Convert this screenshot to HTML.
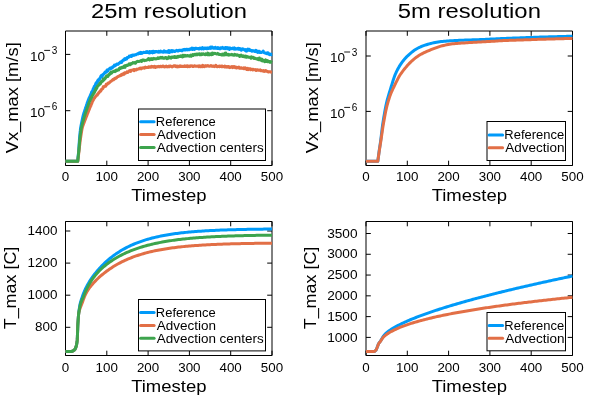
<!DOCTYPE html><html><head><meta charset="utf-8"><style>html,body{margin:0;padding:0;background:#fff;overflow:hidden}svg{display:block}svg{will-change:transform}</style></head><body>
<svg width="600" height="400" viewBox="0 0 600 400" font-family='"Liberation Sans", sans-serif' fill="#000">
<rect width="600" height="400" fill="#fff"/>
<path d="M65.5,31.0 H272.0 V165.5 H65.5 Z" fill="none" stroke="#000" stroke-width="1"/>
<path d="M65.50,165.5 V160.70 M65.50,31.0 V35.80 M106.80,165.5 V160.70 M106.80,31.0 V35.80 M148.10,165.5 V160.70 M148.10,31.0 V35.80 M189.40,165.5 V160.70 M189.40,31.0 V35.80 M230.70,165.5 V160.70 M230.70,31.0 V35.80 M272.00,165.5 V160.70 M272.00,31.0 V35.80 M65.5,54.40 H70.30 M272.0,54.40 H267.20 M65.5,110.70 H70.30 M272.0,110.70 H267.20 " fill="none" stroke="#000" stroke-width="1"/>
<path d="M65.50,161.30 L77.60,161.30 L77.65,160.80 L77.71,160.31 L77.76,159.81 L77.81,159.31 L77.87,158.81 L77.92,158.32 L77.97,157.82 L78.03,157.32 L78.08,156.82 L78.13,156.33 L78.19,155.83 L78.24,155.33 L78.29,154.83 L78.34,154.34 L78.39,153.84 L78.44,153.34 L78.49,152.84 L78.54,152.34 L78.58,151.85 L78.62,151.35 L78.66,150.85 L78.70,150.35 L78.74,149.85 L78.77,149.35 L78.81,148.85 L78.84,148.36 L78.88,147.86 L78.91,147.36 L78.94,146.86 L78.98,146.36 L79.01,145.86 L79.04,145.36 L79.08,144.86 L79.11,144.36 L79.14,143.86 L79.18,143.36 L79.21,142.86 L79.24,142.37 L79.28,141.87 L79.31,141.37 L79.34,140.87 L79.38,140.37 L79.41,139.87 L79.45,139.37 L79.48,138.87 L79.52,138.37 L79.56,137.87 L79.60,137.38 L79.64,136.88 L79.69,136.38 L79.73,135.88 L79.78,135.38 L79.83,134.89 L79.88,134.39 L79.93,133.89 L79.98,133.39 L80.03,132.90 L80.09,132.40 L80.14,131.90 L80.19,131.40 L80.25,130.91 L80.30,130.41 L80.36,129.91 L80.42,129.42 L80.48,128.92 L80.55,128.42 L80.62,127.93 L80.70,127.44 L80.78,126.94 L80.87,126.45 L80.96,125.96 L81.05,125.47 L81.15,124.98 L81.25,124.49 L81.35,124.00 L81.45,123.51 L81.55,123.02 L81.65,122.53 L81.76,122.04 L81.86,121.55 L81.96,121.06 L82.07,120.57 L82.17,120.08 L82.28,119.59 L82.38,119.11 L82.49,118.62 L82.59,118.13 L82.70,117.64 L82.81,117.15 L82.92,116.66 L83.04,116.18 L83.16,115.69 L83.28,115.21 L83.42,114.73 L83.56,114.25 L83.69,113.77 L83.84,113.29 L83.99,112.81 L84.14,112.34 L84.29,111.86 L84.45,111.38 L84.60,110.91 L84.76,110.43 L84.91,109.96 L85.07,109.48 L85.23,109.01 L85.38,108.53 L85.54,108.06 L85.70,107.58 L85.85,107.11 L86.01,106.63 L86.17,106.16 L86.32,105.68 L86.48,105.21 L86.64,104.73 L86.80,104.26 L86.95,103.78 L87.11,103.31 L87.27,102.84 L87.43,102.36 L87.60,101.89 L87.77,101.42 L87.94,100.95 L88.12,100.49 L88.30,100.02 L88.48,99.56 L88.68,99.10 L88.88,98.64 L89.08,98.18 L89.28,97.72 L89.49,97.27 L89.70,96.82 L89.91,96.36 L90.12,96.67 L90.34,95.25 L90.55,95.02 L90.76,94.73 L90.97,93.74 L91.19,93.65 L91.40,93.19 L91.61,91.95 L91.83,92.74 L92.04,92.10 L92.25,91.10 L92.46,90.85 L92.68,90.70 L92.89,89.91 L93.10,89.46 L93.32,88.46 L93.53,88.92 L93.75,88.27 L93.96,87.89 L94.18,86.63 L94.41,87.61 L94.63,86.49 L94.86,85.80 L95.10,86.46 L95.35,85.09 L95.59,84.02 L95.85,84.07 L96.12,82.80 L96.38,83.88 L96.66,82.80 L96.94,82.24 L97.21,82.64 L97.50,81.00 L97.78,81.57 L98.06,79.99 L98.34,80.21 L98.63,79.55 L98.91,80.34 L99.20,80.07 L99.48,78.71 L99.77,78.83 L100.06,77.96 L100.35,77.89 L100.64,76.89 L100.94,76.07 L101.24,75.63 L101.55,76.22 L101.88,76.69 L102.21,75.43 L102.54,74.70 L102.89,75.46 L103.25,74.36 L103.61,73.95 L103.99,73.69 L104.36,73.19 L104.74,72.78 L105.12,71.95 L105.50,72.50 L105.88,71.91 L106.26,72.17 L106.65,71.14 L107.03,70.13 L107.42,70.63 L107.81,71.12 L108.19,69.86 L108.59,69.33 L108.98,68.89 L109.37,68.64 L109.78,68.69 L110.18,68.00 L110.59,68.92 L111.00,67.84 L111.42,67.74 L111.84,68.07 L112.27,67.84 L112.69,66.80 L113.12,66.78 L113.54,66.71 L113.97,66.03 L114.40,65.06 L114.83,65.90 L115.26,65.75 L115.69,65.27 L116.12,64.41 L116.54,64.48 L116.97,64.05 L117.40,63.92 L117.83,64.38 L118.26,64.23 L118.68,63.58 L119.11,63.26 L119.54,63.06 L119.96,62.48 L120.38,62.18 L120.80,61.65 L121.22,61.65 L121.64,62.42 L122.06,61.52 L122.48,60.71 L122.90,60.37 L123.32,59.92 L123.74,60.21 L124.16,59.94 L124.57,58.84 L124.99,59.44 L125.41,58.69 L125.83,59.32 L126.26,58.48 L126.68,58.91 L127.10,57.66 L127.53,57.48 L127.95,57.49 L128.38,57.57 L128.82,57.12 L129.26,56.08 L129.70,56.49 L130.15,56.22 L130.61,55.83 L131.06,55.54 L131.53,56.46 L132.01,55.34 L132.48,54.98 L132.96,55.51 L133.44,55.14 L133.92,54.91 L134.40,55.17 L134.88,54.90 L135.36,54.72 L135.85,54.86 L136.33,54.42 L136.81,53.89 L137.30,53.88 L137.78,53.69 L138.27,53.89 L138.75,53.20 L139.24,52.76 L139.73,53.51 L140.22,52.78 L140.71,52.41 L141.20,53.37 L141.69,52.81 L142.19,53.28 L142.68,52.75 L143.18,52.42 L143.68,52.30 L144.17,52.57 L144.67,52.62 L145.17,52.31 L145.66,52.49 L146.16,51.87 L146.66,52.51 L147.15,51.64 L147.65,52.31 L148.15,52.65 L148.64,52.78 L149.14,53.01 L149.64,51.50 L150.14,52.49 L150.64,52.66 L151.13,52.53 L151.63,51.63 L152.13,52.21 L152.63,52.84 L153.13,51.30 L153.63,52.17 L154.13,52.44 L154.63,51.60 L155.13,52.16 L155.63,51.39 L156.13,51.49 L156.63,51.47 L157.13,51.90 L157.63,51.76 L158.13,52.21 L158.63,51.34 L159.13,51.69 L159.63,52.17 L160.13,51.97 L160.63,51.11 L161.13,52.00 L161.63,51.48 L162.13,51.86 L162.63,51.81 L163.13,52.22 L163.63,51.72 L164.13,50.82 L164.63,51.04 L165.13,51.98 L165.63,51.53 L166.13,52.15 L166.63,51.75 L167.13,51.28 L167.63,52.10 L168.13,51.24 L168.63,50.66 L169.13,52.49 L169.63,50.68 L170.13,51.80 L170.63,51.90 L171.13,51.51 L171.62,50.64 L172.12,51.81 L172.62,50.66 L173.12,50.66 L173.62,51.05 L174.11,51.51 L174.61,51.24 L175.11,51.41 L175.60,50.80 L176.10,50.86 L176.60,50.37 L177.09,50.68 L177.59,51.02 L178.09,50.55 L178.58,50.84 L179.08,50.30 L179.57,50.22 L180.07,50.43 L180.56,50.26 L181.06,50.54 L181.55,50.28 L182.05,50.91 L182.54,49.95 L183.04,49.88 L183.53,49.44 L184.03,49.84 L184.52,50.07 L185.02,49.36 L185.51,49.60 L186.01,49.87 L186.50,49.43 L187.00,49.19 L187.50,49.79 L187.99,49.35 L188.49,49.43 L188.99,49.72 L189.48,49.67 L189.98,48.96 L190.48,48.83 L190.98,49.16 L191.48,48.94 L191.98,48.11 L192.48,49.51 L192.98,48.91 L193.48,49.20 L193.97,48.31 L194.47,49.38 L194.97,48.51 L195.47,48.69 L195.97,48.08 L196.47,48.60 L196.97,48.54 L197.47,48.53 L197.97,48.78 L198.47,48.58 L198.97,48.97 L199.47,48.29 L199.97,48.03 L200.47,48.44 L200.97,48.70 L201.47,48.96 L201.96,48.74 L202.46,47.56 L202.96,48.50 L203.46,48.96 L203.96,48.31 L204.46,48.02 L204.96,48.37 L205.46,47.98 L205.96,48.48 L206.46,48.16 L206.96,48.77 L207.46,48.35 L207.96,47.77 L208.46,48.35 L208.96,48.48 L209.46,47.79 L209.96,47.84 L210.46,46.98 L210.96,48.41 L211.46,47.73 L211.96,47.03 L212.46,47.18 L212.96,47.86 L213.46,48.30 L213.96,47.91 L214.46,48.16 L214.96,47.44 L215.46,47.33 L215.96,48.33 L216.46,48.15 L216.96,47.92 L217.46,48.51 L217.96,47.51 L218.46,47.75 L218.96,48.41 L219.46,48.78 L219.96,47.97 L220.46,48.73 L220.96,47.72 L221.46,48.15 L221.96,47.94 L222.46,47.31 L222.96,48.16 L223.46,48.48 L223.96,48.00 L224.46,48.05 L224.96,48.73 L225.46,47.55 L225.96,47.46 L226.46,47.85 L226.96,47.63 L227.46,48.79 L227.96,48.35 L228.46,47.85 L228.96,47.99 L229.46,49.58 L229.96,48.05 L230.46,48.02 L230.96,48.53 L231.46,48.72 L231.95,48.57 L232.45,48.11 L232.95,48.03 L233.45,48.86 L233.95,48.61 L234.45,47.94 L234.95,49.25 L235.44,49.11 L235.94,48.70 L236.44,48.73 L236.94,48.99 L237.44,48.63 L237.94,48.38 L238.43,49.17 L238.93,48.43 L239.43,49.31 L239.93,48.53 L240.42,49.20 L240.92,49.24 L241.42,50.16 L241.91,48.94 L242.41,48.84 L242.91,49.25 L243.40,49.10 L243.90,49.41 L244.39,49.92 L244.89,50.15 L245.39,50.61 L245.88,49.60 L246.38,51.18 L246.87,50.95 L247.37,50.03 L247.87,49.16 L248.36,50.21 L248.86,50.35 L249.35,49.35 L249.85,50.49 L250.35,50.43 L250.84,50.24 L251.34,50.94 L251.83,51.18 L252.33,50.58 L252.82,50.98 L253.32,50.65 L253.81,50.66 L254.31,51.12 L254.80,51.40 L255.30,50.98 L255.79,50.31 L256.29,51.64 L256.78,50.73 L257.28,51.58 L257.77,52.40 L258.27,51.67 L258.76,51.21 L259.25,51.17 L259.75,52.43 L260.24,51.98 L260.73,52.31 L261.23,52.58 L261.72,52.23 L262.21,52.20 L262.70,52.01 L263.19,51.15 L263.68,51.95 L264.17,52.71 L264.66,52.76 L265.15,53.12 L265.64,52.99 L266.13,53.22 L266.62,53.61 L267.11,52.96 L267.60,53.33 L268.09,52.84 L268.58,54.11 L269.06,53.79 L269.55,54.10 L270.04,54.68 L270.53,54.57 L271.02,54.16 L271.51,54.65 L272.00,54.40" fill="none" stroke="#009af9" stroke-width="3" stroke-linejoin="round"/>
<path d="M65.50,161.30 L77.80,161.30 L77.86,160.80 L77.92,160.31 L77.98,159.81 L78.04,159.31 L78.09,158.82 L78.15,158.32 L78.21,157.82 L78.27,157.32 L78.33,156.83 L78.39,156.33 L78.45,155.83 L78.51,155.34 L78.56,154.84 L78.62,154.34 L78.68,153.85 L78.74,153.35 L78.80,152.85 L78.86,152.35 L78.91,151.86 L78.97,151.36 L79.03,150.86 L79.09,150.37 L79.15,149.87 L79.20,149.37 L79.26,148.87 L79.32,148.38 L79.38,147.88 L79.43,147.38 L79.49,146.89 L79.55,146.39 L79.60,145.89 L79.66,145.39 L79.72,144.90 L79.78,144.40 L79.83,143.90 L79.89,143.41 L79.95,142.91 L80.01,142.41 L80.07,141.92 L80.13,141.42 L80.19,140.92 L80.25,140.43 L80.31,139.93 L80.38,139.43 L80.44,138.94 L80.51,138.44 L80.58,137.95 L80.65,137.45 L80.73,136.96 L80.80,136.46 L80.88,135.97 L80.95,135.47 L81.03,134.98 L81.11,134.48 L81.18,133.99 L81.26,133.49 L81.34,133.00 L81.42,132.51 L81.50,132.01 L81.57,131.52 L81.66,131.02 L81.74,130.53 L81.82,130.04 L81.92,129.55 L82.01,129.06 L82.11,128.57 L82.23,128.09 L82.36,127.61 L82.48,127.12 L82.63,126.65 L82.78,126.17 L82.93,125.70 L83.10,125.23 L83.27,124.76 L83.44,124.29 L83.62,123.82 L83.79,123.35 L83.97,122.89 L84.15,122.42 L84.33,121.95 L84.51,121.48 L84.69,121.02 L84.87,120.55 L85.05,120.08 L85.23,119.62 L85.41,119.15 L85.59,118.68 L85.77,118.21 L85.95,117.75 L86.13,117.28 L86.31,116.81 L86.49,116.35 L86.67,115.88 L86.85,115.41 L87.03,114.95 L87.22,114.48 L87.40,114.02 L87.58,113.55 L87.77,113.09 L87.95,112.62 L88.14,112.16 L88.32,111.69 L88.51,111.23 L88.70,110.76 L88.88,110.30 L89.07,109.83 L89.25,109.37 L89.44,108.90 L89.62,108.44 L89.81,107.98 L90.00,107.51 L90.18,106.54 L90.37,106.73 L90.55,106.17 L90.74,105.09 L90.93,105.66 L91.11,104.48 L91.30,104.50 L91.49,103.65 L91.68,103.68 L91.87,103.33 L92.07,102.13 L92.26,101.42 L92.48,101.47 L92.70,101.36 L92.92,100.49 L93.17,99.98 L93.43,99.94 L93.68,98.38 L93.97,98.71 L94.26,98.05 L94.54,98.23 L94.85,97.48 L95.15,96.95 L95.46,96.82 L95.77,96.04 L96.08,96.16 L96.40,95.53 L96.71,95.25 L97.02,94.74 L97.34,94.92 L97.65,94.17 L97.96,94.01 L98.28,93.60 L98.59,92.76 L98.91,92.85 L99.22,92.39 L99.53,91.98 L99.85,91.35 L100.17,90.95 L100.49,90.99 L100.81,91.10 L101.13,89.67 L101.47,89.78 L101.81,89.09 L102.15,89.13 L102.50,88.66 L102.86,88.53 L103.22,86.83 L103.59,87.26 L103.96,86.79 L104.33,86.77 L104.70,86.22 L105.08,85.92 L105.46,86.06 L105.84,86.16 L106.22,84.18 L106.60,84.73 L106.98,84.62 L107.36,84.19 L107.74,83.74 L108.12,83.07 L108.50,82.89 L108.89,83.15 L109.28,82.97 L109.67,82.31 L110.06,81.67 L110.46,81.70 L110.86,81.29 L111.26,81.27 L111.67,80.83 L112.08,80.28 L112.49,80.28 L112.91,79.52 L113.32,79.94 L113.74,79.79 L114.16,78.69 L114.58,78.98 L115.00,78.21 L115.42,78.67 L115.84,78.34 L116.27,77.68 L116.69,77.85 L117.12,77.09 L117.55,76.76 L117.98,76.53 L118.42,76.43 L118.85,76.12 L119.29,76.05 L119.73,75.54 L120.17,75.79 L120.61,75.65 L121.06,74.90 L121.51,74.35 L121.96,74.89 L122.41,74.83 L122.87,74.16 L123.32,73.56 L123.78,73.90 L124.23,74.13 L124.69,72.73 L125.15,73.35 L125.60,72.87 L126.06,72.48 L126.52,72.75 L126.97,71.91 L127.43,72.28 L127.89,72.44 L128.35,71.84 L128.82,71.29 L129.28,70.80 L129.75,70.79 L130.22,70.44 L130.70,71.49 L131.17,70.68 L131.65,70.27 L132.13,70.04 L132.61,69.99 L133.09,70.12 L133.58,69.66 L134.06,70.57 L134.55,69.60 L135.03,69.47 L135.52,69.73 L136.00,70.01 L136.49,69.84 L136.98,69.09 L137.46,69.23 L137.95,69.08 L138.44,69.10 L138.92,68.90 L139.41,68.37 L139.90,68.16 L140.39,68.57 L140.88,68.00 L141.38,68.80 L141.87,68.25 L142.36,67.80 L142.86,67.97 L143.35,67.82 L143.84,67.88 L144.34,68.18 L144.83,67.27 L145.33,67.05 L145.82,67.75 L146.32,67.49 L146.81,67.54 L147.31,67.57 L147.81,67.28 L148.30,67.56 L148.80,66.90 L149.29,67.18 L149.79,66.81 L150.29,66.65 L150.78,67.21 L151.28,67.15 L151.78,66.23 L152.28,66.48 L152.78,66.94 L153.28,67.18 L153.78,66.54 L154.28,66.68 L154.78,66.22 L155.28,67.56 L155.78,66.82 L156.28,66.94 L156.77,66.83 L157.27,66.89 L157.77,66.75 L158.27,66.40 L158.77,66.75 L159.27,66.50 L159.77,66.90 L160.27,66.18 L160.77,66.23 L161.27,66.64 L161.77,66.84 L162.27,66.43 L162.77,66.13 L163.27,66.33 L163.77,66.19 L164.27,67.02 L164.78,66.67 L165.28,66.79 L165.78,66.45 L166.28,66.14 L166.78,66.74 L167.28,66.91 L167.78,66.53 L168.28,66.31 L168.78,66.69 L169.28,66.18 L169.78,66.58 L170.28,66.06 L170.78,65.97 L171.28,66.50 L171.78,66.42 L172.28,66.97 L172.78,66.20 L173.28,66.31 L173.78,65.90 L174.28,65.65 L174.78,65.68 L175.28,66.46 L175.78,65.89 L176.28,66.69 L176.79,66.79 L177.29,66.19 L177.79,66.87 L178.29,66.37 L178.79,66.68 L179.29,66.20 L179.79,66.61 L180.29,65.94 L180.79,66.49 L181.29,66.10 L181.79,66.21 L182.29,66.48 L182.79,66.31 L183.29,66.22 L183.79,66.50 L184.29,66.52 L184.79,65.75 L185.29,66.42 L185.79,66.46 L186.29,65.96 L186.79,66.35 L187.29,65.75 L187.79,66.71 L188.29,66.12 L188.80,66.17 L189.30,66.61 L189.80,66.14 L190.30,66.39 L190.80,65.81 L191.30,65.97 L191.80,65.68 L192.30,66.09 L192.80,66.52 L193.30,66.23 L193.80,66.46 L194.30,65.79 L194.80,65.83 L195.30,65.97 L195.80,66.33 L196.30,66.25 L196.80,66.12 L197.30,66.34 L197.80,66.06 L198.30,66.10 L198.80,66.57 L199.30,65.90 L199.80,66.17 L200.30,66.67 L200.81,66.14 L201.31,66.35 L201.81,65.89 L202.31,66.79 L202.81,65.31 L203.31,65.70 L203.81,65.73 L204.31,66.67 L204.81,66.22 L205.31,66.01 L205.81,65.65 L206.31,66.23 L206.81,66.14 L207.31,65.86 L207.81,65.58 L208.31,65.72 L208.81,66.19 L209.31,66.23 L209.81,66.15 L210.31,66.08 L210.81,65.53 L211.31,66.18 L211.81,65.82 L212.31,66.21 L212.81,66.37 L213.31,65.99 L213.81,65.89 L214.31,66.61 L214.81,66.41 L215.31,66.08 L215.81,65.27 L216.31,66.32 L216.81,66.58 L217.31,66.77 L217.81,66.15 L218.31,66.18 L218.81,66.27 L219.31,66.73 L219.81,66.04 L220.32,66.43 L220.82,66.16 L221.32,66.59 L221.82,65.97 L222.32,66.66 L222.82,66.36 L223.32,66.47 L223.82,66.75 L224.32,66.98 L224.82,66.00 L225.32,66.96 L225.82,66.82 L226.32,66.54 L226.82,67.15 L227.32,66.75 L227.82,67.16 L228.32,66.53 L228.81,66.47 L229.31,67.23 L229.81,67.60 L230.31,67.11 L230.81,67.24 L231.31,66.81 L231.81,66.56 L232.30,66.99 L232.80,67.64 L233.30,66.52 L233.80,67.05 L234.29,66.60 L234.79,67.36 L235.29,67.68 L235.79,66.99 L236.29,67.33 L236.78,67.99 L237.28,67.55 L237.78,67.20 L238.28,67.22 L238.77,67.03 L239.27,68.07 L239.77,67.59 L240.27,68.28 L240.76,68.28 L241.26,67.80 L241.76,67.91 L242.25,68.43 L242.75,68.27 L243.24,68.38 L243.74,67.77 L244.24,68.73 L244.73,68.17 L245.23,67.75 L245.73,68.39 L246.22,68.82 L246.72,69.47 L247.21,68.67 L247.71,68.40 L248.21,69.67 L248.70,69.05 L249.20,68.96 L249.70,68.74 L250.19,68.83 L250.69,69.76 L251.19,69.21 L251.68,69.17 L252.18,69.24 L252.68,70.03 L253.17,69.34 L253.67,69.82 L254.17,69.75 L254.66,69.80 L255.16,69.47 L255.66,70.07 L256.15,70.46 L256.65,69.94 L257.15,69.70 L257.65,69.63 L258.14,70.20 L258.64,70.10 L259.14,70.22 L259.63,70.33 L260.13,69.87 L260.62,70.73 L261.12,70.60 L261.62,70.56 L262.11,70.74 L262.61,71.06 L263.10,70.83 L263.60,70.58 L264.09,71.37 L264.58,70.88 L265.08,70.86 L265.57,70.64 L266.07,71.27 L266.56,70.98 L267.06,71.24 L267.55,71.66 L268.05,71.59 L268.54,72.01 L269.03,71.84 L269.53,71.67 L270.02,71.77 L270.52,71.79 L271.01,72.27 L271.51,72.13 L272.00,72.20" fill="none" stroke="#e26f46" stroke-width="3" stroke-linejoin="round"/>
<path d="M65.50,161.30 L77.70,161.30 L77.75,160.80 L77.81,160.30 L77.86,159.81 L77.91,159.31 L77.97,158.81 L78.02,158.31 L78.07,157.82 L78.13,157.32 L78.18,156.82 L78.23,156.32 L78.29,155.83 L78.34,155.33 L78.39,154.83 L78.45,154.33 L78.50,153.84 L78.55,153.34 L78.60,152.84 L78.65,152.34 L78.70,151.84 L78.74,151.35 L78.79,150.85 L78.84,150.35 L78.88,149.85 L78.93,149.35 L78.97,148.85 L79.01,148.36 L79.05,147.86 L79.10,147.36 L79.14,146.86 L79.18,146.36 L79.23,145.86 L79.27,145.36 L79.31,144.87 L79.35,144.37 L79.40,143.87 L79.44,143.37 L79.48,142.87 L79.53,142.37 L79.57,141.87 L79.61,141.38 L79.66,140.88 L79.70,140.38 L79.75,139.88 L79.80,139.38 L79.84,138.89 L79.90,138.39 L79.95,137.89 L80.00,137.39 L80.06,136.90 L80.12,136.40 L80.18,135.90 L80.24,135.41 L80.30,134.91 L80.37,134.41 L80.43,133.92 L80.50,133.42 L80.56,132.92 L80.63,132.43 L80.69,131.93 L80.76,131.44 L80.83,130.94 L80.90,130.45 L80.97,129.95 L81.05,129.46 L81.14,128.97 L81.22,128.47 L81.32,127.98 L81.42,127.50 L81.52,127.01 L81.64,126.52 L81.76,126.04 L81.88,125.55 L82.01,125.07 L82.14,124.58 L82.27,124.10 L82.40,123.62 L82.53,123.14 L82.66,122.65 L82.79,122.17 L82.92,121.69 L83.06,121.20 L83.19,120.72 L83.32,120.24 L83.45,119.76 L83.58,119.27 L83.72,118.79 L83.85,118.31 L83.98,117.83 L84.12,117.35 L84.25,116.86 L84.40,116.38 L84.54,115.90 L84.68,115.42 L84.83,114.95 L84.98,114.47 L85.13,113.99 L85.29,113.52 L85.45,113.04 L85.61,112.57 L85.77,112.10 L85.93,111.62 L86.10,111.15 L86.26,110.68 L86.43,110.21 L86.59,109.73 L86.76,109.26 L86.92,108.79 L87.09,108.32 L87.25,107.85 L87.42,107.37 L87.58,106.90 L87.75,106.43 L87.92,105.96 L88.08,105.48 L88.25,105.01 L88.41,104.54 L88.58,104.07 L88.75,103.60 L88.91,103.13 L89.08,102.66 L89.26,102.19 L89.44,101.72 L89.62,101.25 L89.81,100.80 L90.01,100.15 L90.20,100.26 L90.42,99.47 L90.64,98.77 L90.86,97.85 L91.09,98.29 L91.33,97.76 L91.56,97.23 L91.80,96.57 L92.04,95.96 L92.28,95.79 L92.53,95.56 L92.77,94.96 L93.01,94.52 L93.25,93.93 L93.50,93.86 L93.74,93.37 L93.98,92.49 L94.23,92.74 L94.47,92.31 L94.71,91.88 L94.96,91.02 L95.20,90.56 L95.44,89.69 L95.69,90.11 L95.93,88.37 L96.19,88.73 L96.44,88.32 L96.69,88.43 L96.96,87.62 L97.22,86.77 L97.49,86.14 L97.78,86.05 L98.07,86.02 L98.36,85.59 L98.67,85.08 L98.97,84.47 L99.28,84.29 L99.60,84.45 L99.92,83.12 L100.24,83.24 L100.56,83.57 L100.88,82.71 L101.21,81.88 L101.54,82.01 L101.87,81.00 L102.20,80.97 L102.55,81.30 L102.89,81.09 L103.24,79.11 L103.60,79.84 L103.95,80.06 L104.31,78.58 L104.67,78.60 L105.04,78.82 L105.40,77.58 L105.76,77.66 L106.13,77.09 L106.50,75.91 L106.86,76.59 L107.23,76.01 L107.60,76.17 L107.97,76.37 L108.35,75.41 L108.72,74.60 L109.11,74.67 L109.50,74.25 L109.90,74.31 L110.31,72.93 L110.72,72.78 L111.14,72.12 L111.57,73.07 L112.00,72.54 L112.44,72.02 L112.88,71.75 L113.33,71.59 L113.77,71.20 L114.22,71.25 L114.66,70.95 L115.11,71.57 L115.56,70.87 L116.01,70.13 L116.45,70.01 L116.90,70.59 L117.35,70.03 L117.80,69.74 L118.25,69.71 L118.70,69.88 L119.15,68.40 L119.60,68.39 L120.05,67.73 L120.50,68.52 L120.95,67.92 L121.41,67.58 L121.86,67.33 L122.32,67.77 L122.77,67.19 L123.23,66.81 L123.69,67.41 L124.14,66.17 L124.60,65.86 L125.05,67.39 L125.51,65.86 L125.97,65.57 L126.42,65.29 L126.88,65.35 L127.34,65.56 L127.80,65.35 L128.26,65.06 L128.72,64.49 L129.18,63.76 L129.65,64.38 L130.11,64.75 L130.58,64.39 L131.06,63.66 L131.53,63.94 L132.00,63.25 L132.48,63.25 L132.96,62.56 L133.43,62.83 L133.91,62.89 L134.39,62.61 L134.87,62.89 L135.35,63.24 L135.83,62.85 L136.31,61.97 L136.79,61.64 L137.27,61.53 L137.75,61.25 L138.23,61.57 L138.71,61.60 L139.20,61.37 L139.68,61.25 L140.16,61.11 L140.65,60.86 L141.14,60.48 L141.62,61.47 L142.11,61.06 L142.60,60.08 L143.09,59.98 L143.58,60.02 L144.07,60.20 L144.56,60.65 L145.05,60.45 L145.54,60.37 L146.04,60.28 L146.53,60.20 L147.02,59.93 L147.51,59.71 L148.00,59.36 L148.49,58.54 L148.98,59.18 L149.48,59.97 L149.97,58.84 L150.47,58.73 L150.96,59.41 L151.46,58.92 L151.95,58.60 L152.45,59.47 L152.95,58.99 L153.45,59.00 L153.94,58.35 L154.44,58.78 L154.94,58.68 L155.44,58.81 L155.94,58.92 L156.43,58.86 L156.93,58.39 L157.43,58.57 L157.93,57.70 L158.43,58.46 L158.92,58.44 L159.42,57.91 L159.92,57.70 L160.42,57.98 L160.92,57.43 L161.42,58.10 L161.92,58.05 L162.42,57.46 L162.92,57.88 L163.42,58.31 L163.92,58.28 L164.42,58.23 L164.92,57.69 L165.42,57.58 L165.92,57.53 L166.42,57.94 L166.92,58.71 L167.42,58.26 L167.91,58.31 L168.41,58.18 L168.91,56.81 L169.41,57.41 L169.91,57.28 L170.41,58.00 L170.91,58.15 L171.41,57.06 L171.91,57.33 L172.41,57.52 L172.90,57.01 L173.40,56.90 L173.90,56.83 L174.40,57.49 L174.90,56.63 L175.39,57.50 L175.89,56.98 L176.39,57.23 L176.89,57.54 L177.39,56.49 L177.88,56.37 L178.38,56.87 L178.88,56.16 L179.38,56.24 L179.87,56.46 L180.37,56.52 L180.87,55.83 L181.36,56.16 L181.86,56.54 L182.36,56.82 L182.85,55.27 L183.35,56.68 L183.85,56.43 L184.34,55.49 L184.84,55.26 L185.34,56.05 L185.84,55.61 L186.33,55.80 L186.83,56.07 L187.33,55.46 L187.82,55.65 L188.32,55.73 L188.82,55.87 L189.32,56.21 L189.81,56.13 L190.31,55.43 L190.81,55.17 L191.31,56.29 L191.81,55.47 L192.31,55.32 L192.80,54.59 L193.30,55.39 L193.80,54.65 L194.30,54.75 L194.80,54.31 L195.30,54.63 L195.79,54.84 L196.29,54.10 L196.79,54.33 L197.29,54.65 L197.79,54.08 L198.29,54.05 L198.79,54.20 L199.29,53.91 L199.78,54.78 L200.28,54.04 L200.78,54.80 L201.28,54.85 L201.78,53.87 L202.28,54.41 L202.78,54.15 L203.28,53.84 L203.78,54.18 L204.28,54.20 L204.78,54.61 L205.28,54.73 L205.78,53.76 L206.28,54.06 L206.78,54.46 L207.28,54.73 L207.78,53.09 L208.28,54.75 L208.78,54.08 L209.28,54.83 L209.78,53.95 L210.28,53.75 L210.78,54.14 L211.29,54.64 L211.79,54.12 L212.29,53.05 L212.79,54.41 L213.29,53.38 L213.79,53.66 L214.29,53.58 L214.79,53.28 L215.29,53.54 L215.79,53.66 L216.29,53.83 L216.79,54.09 L217.29,53.97 L217.79,53.46 L218.29,54.06 L218.79,54.59 L219.29,54.59 L219.79,54.24 L220.29,54.47 L220.79,54.61 L221.29,54.84 L221.79,55.01 L222.29,54.12 L222.79,54.16 L223.29,54.96 L223.79,55.02 L224.29,55.03 L224.79,53.30 L225.29,54.28 L225.79,52.93 L226.29,54.74 L226.79,54.46 L227.29,54.48 L227.79,54.42 L228.29,55.09 L228.79,54.40 L229.29,55.03 L229.79,54.84 L230.29,54.79 L230.79,54.87 L231.29,54.74 L231.79,54.24 L232.28,55.09 L232.78,55.12 L233.28,54.78 L233.78,55.21 L234.28,55.32 L234.78,54.37 L235.28,54.93 L235.78,54.83 L236.28,54.66 L236.77,55.26 L237.27,54.77 L237.77,55.01 L238.27,55.37 L238.76,55.46 L239.26,55.52 L239.75,56.45 L240.25,55.29 L240.74,55.71 L241.23,55.14 L241.73,55.99 L242.22,56.38 L242.71,56.51 L243.20,55.77 L243.69,56.03 L244.18,56.82 L244.67,56.31 L245.16,56.88 L245.65,56.12 L246.14,57.28 L246.63,57.21 L247.12,57.06 L247.61,56.59 L248.10,56.98 L248.59,57.22 L249.08,57.37 L249.57,57.30 L250.06,57.35 L250.55,57.64 L251.04,58.28 L251.53,56.85 L252.03,57.23 L252.52,57.25 L253.01,57.74 L253.50,57.36 L253.99,58.49 L254.48,58.39 L254.97,58.33 L255.46,58.23 L255.95,58.71 L256.44,58.82 L256.93,58.99 L257.42,58.61 L257.91,59.33 L258.40,58.48 L258.89,59.80 L259.38,57.96 L259.87,59.18 L260.36,59.02 L260.85,60.02 L261.33,59.11 L261.82,60.71 L262.31,59.31 L262.79,61.04 L263.28,60.45 L263.76,60.38 L264.25,60.69 L264.73,61.60 L265.22,61.14 L265.70,59.86 L266.19,61.53 L266.67,61.22 L267.16,60.52 L267.64,61.71 L268.12,60.95 L268.61,61.70 L269.09,61.85 L269.58,61.58 L270.06,62.29 L270.55,61.66 L271.03,62.33 L271.52,62.13 L272.00,62.50" fill="none" stroke="#3da44d" stroke-width="3" stroke-linejoin="round"/>
<rect x="138.5" y="109.0" width="127.0" height="51.5" fill="#fff" stroke="#000" stroke-width="1"/>
<path d="M140.6,121.7 H154.1" stroke="#009af9" stroke-width="3" stroke-linecap="round"/>
<text transform="translate(155.83,126.00) scale(1.0910,1)" font-size="11.9" text-anchor="start">Reference</text>
<path d="M140.6,134.6 H154.1" stroke="#e26f46" stroke-width="3" stroke-linecap="round"/>
<text transform="translate(156.86,138.90) scale(1.1330,1)" font-size="11.9" text-anchor="start">Advection</text>
<path d="M140.6,147.5 H154.1" stroke="#3da44d" stroke-width="3" stroke-linecap="round"/>
<text transform="translate(156.86,151.80) scale(1.1290,1)" font-size="11.9" text-anchor="start">Advection centers</text>
<path d="M366.0,31.0 H572.5 V165.5 H366.0 Z" fill="none" stroke="#000" stroke-width="1"/>
<path d="M366.00,165.5 V160.70 M366.00,31.0 V35.80 M407.30,165.5 V160.70 M407.30,31.0 V35.80 M448.60,165.5 V160.70 M448.60,31.0 V35.80 M489.90,165.5 V160.70 M489.90,31.0 V35.80 M531.20,165.5 V160.70 M531.20,31.0 V35.80 M572.50,165.5 V160.70 M572.50,31.0 V35.80 M366.0,56.00 H370.80 M572.5,56.00 H567.70 M366.0,111.40 H370.80 M572.5,111.40 H567.70 " fill="none" stroke="#000" stroke-width="1"/>
<path d="M366.00,161.20 L377.80,161.20 L378.00,159.71 L378.20,158.23 L378.40,156.74 L378.60,155.25 L378.80,153.76 L379.00,152.28 L379.21,150.79 L379.42,149.31 L379.64,147.82 L379.85,146.34 L380.07,144.85 L380.28,143.37 L380.50,141.88 L380.70,140.40 L380.89,138.91 L381.08,137.42 L381.26,135.93 L381.43,134.44 L381.61,132.95 L381.78,131.46 L381.96,129.97 L382.14,128.48 L382.33,126.99 L382.54,125.51 L382.75,124.02 L382.98,122.54 L383.21,121.06 L383.45,119.57 L383.69,118.09 L383.93,116.61 L384.17,115.13 L384.42,113.65 L384.67,112.17 L384.94,110.70 L385.21,109.22 L385.50,107.75 L385.80,106.28 L386.11,104.81 L386.44,103.35 L386.78,101.89 L387.14,100.43 L387.52,98.98 L387.92,97.54 L388.34,96.10 L388.76,94.66 L389.19,93.22 L389.63,91.79 L390.07,90.35 L390.51,88.92 L390.95,87.48 L391.39,86.05 L391.83,84.61 L392.28,83.18 L392.72,81.75 L393.17,80.32 L393.63,78.89 L394.11,77.47 L394.62,76.07 L395.17,74.67 L395.75,73.29 L396.37,71.93 L397.02,70.58 L397.70,69.25 L398.41,67.93 L399.16,66.64 L399.95,65.37 L400.78,64.13 L401.64,62.90 L402.52,61.70 L403.43,60.51 L404.37,59.35 L405.35,58.22 L406.36,57.12 L407.41,56.06 L408.50,55.04 L409.61,54.04 L410.75,53.06 L411.91,52.12 L413.09,51.21 L414.31,50.34 L415.55,49.52 L416.83,48.75 L418.14,48.03 L419.47,47.36 L420.83,46.75 L422.21,46.19 L423.61,45.66 L425.03,45.17 L426.45,44.71 L427.89,44.27 L429.33,43.87 L430.78,43.49 L432.23,43.15 L433.70,42.83 L435.17,42.54 L436.64,42.27 L438.12,42.03 L439.60,41.81 L441.09,41.61 L442.58,41.44 L444.07,41.30 L445.56,41.17 L447.06,41.05 L448.56,40.94 L450.05,40.84 L451.55,40.74 L453.05,40.66 L454.55,40.58 L456.04,40.50 L457.54,40.43 L459.04,40.36 L460.54,40.29 L462.04,40.22 L463.54,40.16 L465.04,40.10 L466.54,40.04 L468.04,39.98 L469.54,39.93 L471.04,39.88 L472.54,39.83 L474.04,39.78 L475.54,39.73 L477.04,39.68 L478.53,39.63 L480.03,39.57 L481.53,39.51 L483.03,39.45 L484.53,39.38 L486.03,39.31 L487.53,39.24 L489.03,39.17 L490.53,39.09 L492.03,39.02 L493.52,38.95 L495.02,38.88 L496.52,38.81 L498.02,38.74 L499.52,38.66 L501.02,38.59 L502.52,38.52 L504.02,38.46 L505.51,38.39 L507.01,38.33 L508.51,38.27 L510.01,38.22 L511.51,38.16 L513.01,38.10 L514.51,38.05 L516.01,37.99 L517.51,37.94 L519.01,37.88 L520.51,37.82 L522.01,37.77 L523.51,37.71 L525.01,37.66 L526.51,37.60 L528.01,37.55 L529.51,37.49 L531.01,37.43 L532.50,37.38 L534.00,37.32 L535.50,37.27 L537.00,37.21 L538.50,37.16 L540.00,37.11 L541.50,37.07 L543.00,37.02 L544.50,36.98 L546.00,36.93 L547.50,36.89 L549.00,36.85 L550.50,36.81 L552.00,36.77 L553.50,36.73 L555.00,36.68 L556.50,36.64 L558.00,36.60 L559.50,36.56 L561.00,36.52 L562.50,36.48 L564.00,36.44 L565.50,36.39 L567.00,36.35 L568.50,36.31 L570.00,36.27 L571.50,36.23 L572.50,36.20" fill="none" stroke="#009af9" stroke-width="3" stroke-linejoin="round"/>
<path d="M366.00,161.20 L377.80,161.20 L378.01,159.71 L378.22,158.23 L378.44,156.74 L378.65,155.26 L378.87,153.77 L379.08,152.29 L379.30,150.80 L379.53,149.32 L379.76,147.83 L379.99,146.35 L380.22,144.87 L380.45,143.38 L380.69,141.90 L380.91,140.42 L381.14,138.93 L381.36,137.45 L381.57,135.96 L381.79,134.48 L382.00,132.99 L382.22,131.51 L382.43,130.02 L382.66,128.54 L382.88,127.05 L383.12,125.57 L383.37,124.09 L383.63,122.61 L383.89,121.13 L384.15,119.66 L384.42,118.18 L384.69,116.70 L384.96,115.23 L385.24,113.75 L385.53,112.28 L385.83,110.81 L386.15,109.34 L386.48,107.88 L386.84,106.42 L387.21,104.97 L387.60,103.52 L388.00,102.08 L388.42,100.64 L388.87,99.20 L389.33,97.78 L389.82,96.36 L390.33,94.95 L390.87,93.55 L391.43,92.16 L392.03,90.79 L392.65,89.43 L393.29,88.07 L393.95,86.72 L394.60,85.37 L395.27,84.02 L395.93,82.68 L396.59,81.33 L397.27,79.99 L397.95,78.66 L398.66,77.34 L399.40,76.04 L400.19,74.78 L401.02,73.54 L401.89,72.32 L402.79,71.12 L403.72,69.94 L404.65,68.77 L405.61,67.61 L406.58,66.47 L407.56,65.34 L408.57,64.23 L409.60,63.14 L410.65,62.08 L411.73,61.04 L412.84,60.04 L413.98,59.07 L415.15,58.14 L416.35,57.25 L417.57,56.38 L418.82,55.56 L420.09,54.78 L421.39,54.05 L422.72,53.36 L424.07,52.71 L425.43,52.08 L426.79,51.46 L428.17,50.86 L429.55,50.28 L430.94,49.70 L432.33,49.15 L433.73,48.60 L435.13,48.07 L436.54,47.56 L437.95,47.06 L439.38,46.60 L440.81,46.18 L442.26,45.78 L443.71,45.42 L445.17,45.09 L446.64,44.78 L448.11,44.50 L449.59,44.25 L451.07,44.04 L452.56,43.86 L454.05,43.70 L455.54,43.57 L457.04,43.44 L458.54,43.33 L460.03,43.21 L461.53,43.10 L463.03,42.99 L464.52,42.89 L466.02,42.78 L467.52,42.68 L469.02,42.59 L470.52,42.50 L472.01,42.41 L473.51,42.33 L475.01,42.25 L476.51,42.17 L478.01,42.09 L479.51,42.01 L481.01,41.93 L482.51,41.84 L484.01,41.76 L485.50,41.67 L487.00,41.58 L488.50,41.49 L490.00,41.40 L491.50,41.31 L493.00,41.22 L494.49,41.13 L495.99,41.04 L497.49,40.95 L498.99,40.86 L500.49,40.77 L501.99,40.69 L503.49,40.61 L504.98,40.54 L506.48,40.47 L507.98,40.41 L509.48,40.35 L510.98,40.30 L512.48,40.24 L513.98,40.19 L515.48,40.14 L516.99,40.09 L518.49,40.04 L519.99,39.99 L521.49,39.93 L522.99,39.88 L524.49,39.83 L525.99,39.78 L527.49,39.73 L528.99,39.68 L530.49,39.63 L531.99,39.57 L533.49,39.52 L534.99,39.47 L536.49,39.42 L537.99,39.37 L539.49,39.33 L540.99,39.28 L542.49,39.23 L543.99,39.19 L545.49,39.15 L546.99,39.11 L548.49,39.06 L549.99,39.02 L551.49,38.98 L552.99,38.94 L554.49,38.90 L555.99,38.86 L557.49,38.82 L559.00,38.77 L560.50,38.73 L562.00,38.69 L563.50,38.65 L565.00,38.61 L566.50,38.57 L568.00,38.52 L569.50,38.48 L571.00,38.44 L572.50,38.40" fill="none" stroke="#e26f46" stroke-width="3" stroke-linejoin="round"/>
<rect x="487.0" y="121.5" width="78.5" height="39.0" fill="#fff" stroke="#000" stroke-width="1"/>
<path d="M489.1,135.0 H502.6" stroke="#009af9" stroke-width="3" stroke-linecap="round"/>
<text transform="translate(504.33,139.30) scale(1.0910,1)" font-size="11.9" text-anchor="start">Reference</text>
<path d="M489.1,147.8 H502.6" stroke="#e26f46" stroke-width="3" stroke-linecap="round"/>
<text transform="translate(505.36,152.10) scale(1.1330,1)" font-size="11.9" text-anchor="start">Advection</text>
<path d="M65.5,221.5 H272.0 V355.5 H65.5 Z" fill="none" stroke="#000" stroke-width="1"/>
<path d="M65.50,355.5 V350.70 M65.50,221.5 V226.30 M106.80,355.5 V350.70 M106.80,221.5 V226.30 M148.10,355.5 V350.70 M148.10,221.5 V226.30 M189.40,355.5 V350.70 M189.40,221.5 V226.30 M230.70,355.5 V350.70 M230.70,221.5 V226.30 M272.00,355.5 V350.70 M272.00,221.5 V226.30 M65.5,231.00 H70.30 M272.0,231.00 H267.20 M65.5,263.10 H70.30 M272.0,263.10 H267.20 M65.5,295.20 H70.30 M272.0,295.20 H267.20 M65.5,327.30 H70.30 M272.0,327.30 H267.20 " fill="none" stroke="#000" stroke-width="1"/>
<path d="M65.50,351.60 L67.00,351.60 L68.50,351.60 L69.99,351.58 L71.46,351.44 L72.85,351.05 L74.05,350.33 L74.95,349.26 L75.62,347.96 L76.12,346.57 L76.47,345.12 L76.73,343.65 L76.96,342.17 L77.16,340.68 L77.29,339.19 L77.37,337.69 L77.43,336.20 L77.48,334.70 L77.53,333.20 L77.58,331.70 L77.63,330.20 L77.68,328.70 L77.73,327.20 L77.79,325.70 L77.87,324.20 L77.97,322.71 L78.08,321.21 L78.19,319.71 L78.30,318.22 L78.41,316.72 L78.52,315.23 L78.65,313.73 L78.81,312.24 L79.01,310.76 L79.22,309.27 L79.44,307.79 L79.66,306.30 L79.92,304.83 L80.23,303.37 L80.62,301.92 L81.06,300.48 L81.52,299.06 L82.00,297.63 L82.48,296.21 L82.98,294.80 L83.52,293.40 L84.09,292.02 L84.68,290.64 L85.29,289.27 L85.94,287.92 L86.61,286.58 L87.31,285.25 L88.04,283.94 L88.80,282.64 L89.58,281.36 L90.38,280.10 L91.21,278.85 L92.06,277.61 L92.93,276.39 L93.82,275.18 L94.73,273.99 L95.66,272.82 L96.61,271.65 L97.58,270.51 L98.56,269.38 L99.57,268.26 L100.59,267.16 L101.62,266.08 L102.67,265.01 L103.74,263.96 L104.83,262.92 L105.93,261.90 L107.04,260.90 L108.18,259.92 L109.32,258.95 L110.48,258.00 L111.66,257.07 L112.85,256.16 L114.06,255.27 L115.28,254.39 L116.51,253.54 L117.76,252.71 L119.02,251.89 L120.29,251.10 L121.57,250.32 L122.87,249.57 L124.18,248.83 L125.50,248.12 L126.83,247.43 L128.17,246.75 L129.52,246.10 L130.87,245.46 L132.24,244.84 L133.62,244.25 L135.00,243.67 L136.39,243.11 L137.79,242.57 L139.20,242.04 L140.61,241.54 L142.03,241.05 L143.45,240.57 L144.88,240.12 L146.31,239.68 L147.75,239.25 L149.19,238.84 L150.64,238.45 L152.09,238.07 L153.55,237.70 L155.00,237.35 L156.47,237.01 L157.93,236.68 L159.40,236.37 L160.87,236.06 L162.34,235.77 L163.81,235.49 L165.29,235.22 L166.76,234.96 L168.24,234.71 L169.72,234.47 L171.21,234.24 L172.69,234.02 L174.17,233.81 L175.66,233.60 L177.15,233.41 L178.64,233.22 L180.12,233.04 L181.61,232.86 L183.10,232.69 L184.60,232.53 L186.09,232.38 L187.58,232.23 L189.07,232.09 L190.57,231.95 L192.06,231.82 L193.56,231.69 L195.05,231.57 L196.55,231.46 L198.04,231.35 L199.54,231.24 L201.04,231.14 L202.53,231.04 L204.03,230.94 L205.53,230.85 L207.03,230.76 L208.52,230.68 L210.02,230.60 L211.52,230.52 L213.02,230.45 L214.52,230.38 L216.01,230.31 L217.51,230.24 L219.01,230.18 L220.51,230.12 L222.01,230.06 L223.51,230.00 L225.01,229.95 L226.51,229.90 L228.01,229.85 L229.51,229.80 L231.00,229.76 L232.50,229.71 L234.00,229.67 L235.50,229.63 L237.00,229.59 L238.50,229.56 L240.00,229.52 L241.50,229.49 L243.00,229.45 L244.50,229.42 L246.00,229.39 L247.50,229.36 L249.00,229.34 L250.50,229.31 L252.00,229.28 L253.50,229.26 L255.00,229.24 L256.50,229.21 L258.00,229.19 L259.50,229.17 L261.00,229.15 L262.50,229.13 L264.00,229.11 L265.50,229.10 L267.00,229.08 L268.50,229.06 L270.00,229.05 L271.50,229.03 L272.00,229.03" fill="none" stroke="#009af9" stroke-width="3" stroke-linejoin="round"/>
<path d="M65.50,351.60 L67.00,351.60 L68.50,351.60 L70.00,351.58 L71.47,351.44 L72.85,351.05 L74.05,350.32 L74.96,349.26 L75.62,347.96 L76.12,346.56 L76.48,345.12 L76.74,343.64 L76.96,342.16 L77.16,340.67 L77.29,339.18 L77.37,337.68 L77.43,336.19 L77.48,334.69 L77.53,333.19 L77.58,331.69 L77.63,330.19 L77.68,328.69 L77.73,327.19 L77.79,325.69 L77.87,324.19 L77.97,322.69 L78.08,321.20 L78.19,319.70 L78.30,318.20 L78.41,316.71 L78.53,315.21 L78.69,313.72 L78.94,312.25 L79.31,310.80 L79.74,309.37 L80.20,307.94 L80.72,306.54 L81.31,305.17 L81.88,303.79 L82.39,302.38 L82.88,300.97 L83.39,299.56 L83.92,298.15 L84.46,296.75 L85.03,295.37 L85.67,294.01 L86.37,292.68 L87.10,291.38 L87.89,290.11 L88.73,288.86 L89.60,287.64 L90.52,286.46 L91.46,285.29 L92.44,284.15 L93.44,283.03 L94.46,281.94 L95.51,280.86 L96.57,279.80 L97.65,278.76 L98.74,277.73 L99.86,276.72 L100.99,275.74 L102.13,274.76 L103.29,273.81 L104.46,272.87 L105.65,271.95 L106.85,271.05 L108.06,270.17 L109.29,269.31 L110.53,268.46 L111.78,267.64 L113.04,266.83 L114.32,266.04 L115.61,265.27 L116.91,264.52 L118.22,263.79 L119.54,263.08 L120.87,262.38 L122.21,261.71 L123.56,261.05 L124.92,260.41 L126.28,259.80 L127.66,259.19 L129.04,258.61 L130.43,258.05 L131.83,257.50 L133.23,256.97 L134.64,256.46 L136.06,255.96 L137.48,255.48 L138.91,255.01 L140.34,254.56 L141.77,254.13 L143.21,253.71 L144.66,253.30 L146.11,252.91 L147.56,252.54 L149.02,252.17 L150.48,251.82 L151.94,251.48 L153.40,251.15 L154.87,250.84 L156.34,250.53 L157.81,250.24 L159.28,249.96 L160.76,249.69 L162.24,249.42 L163.72,249.17 L165.20,248.93 L166.68,248.70 L168.16,248.47 L169.65,248.25 L171.13,248.04 L172.62,247.84 L174.11,247.65 L175.60,247.46 L177.09,247.28 L178.58,247.11 L180.07,246.94 L181.56,246.78 L183.06,246.63 L184.55,246.48 L186.04,246.34 L187.54,246.20 L189.03,246.07 L190.53,245.94 L192.02,245.82 L193.52,245.71 L195.02,245.59 L196.51,245.48 L198.01,245.38 L199.51,245.28 L201.00,245.18 L202.50,245.09 L204.00,245.00 L205.50,244.91 L207.00,244.83 L208.50,244.75 L209.99,244.68 L211.49,244.60 L212.99,244.53 L214.49,244.46 L215.99,244.40 L217.49,244.34 L218.99,244.28 L220.49,244.22 L221.99,244.16 L223.49,244.11 L224.99,244.06 L226.49,244.01 L227.99,243.96 L229.49,243.91 L230.99,243.87 L232.49,243.83 L233.99,243.78 L235.49,243.75 L236.99,243.71 L238.49,243.67 L239.99,243.64 L241.49,243.60 L242.99,243.57 L244.49,243.54 L245.99,243.51 L247.49,243.48 L248.99,243.45 L250.49,243.43 L251.99,243.40 L253.49,243.38 L254.99,243.35 L256.49,243.33 L257.99,243.31 L259.50,243.29 L261.00,243.27 L262.50,243.25 L264.00,243.23 L265.50,243.21 L267.00,243.19 L268.50,243.18 L270.00,243.16 L271.50,243.15 L272.00,243.14" fill="none" stroke="#e26f46" stroke-width="3" stroke-linejoin="round"/>
<path d="M65.50,351.60 L67.00,351.60 L68.50,351.60 L70.00,351.57 L71.47,351.44 L72.86,351.05 L74.05,350.32 L74.96,349.25 L75.62,347.95 L76.12,346.56 L76.48,345.11 L76.74,343.63 L76.96,342.15 L77.16,340.66 L77.30,339.17 L77.37,337.67 L77.43,336.17 L77.48,334.67 L77.53,333.17 L77.58,331.67 L77.63,330.17 L77.68,328.67 L77.73,327.17 L77.79,325.67 L77.87,324.17 L77.97,322.67 L78.08,321.17 L78.19,319.68 L78.30,318.18 L78.41,316.68 L78.53,315.18 L78.66,313.69 L78.86,312.20 L79.11,310.72 L79.38,309.25 L79.67,307.78 L79.96,306.30 L80.28,304.84 L80.66,303.39 L81.13,301.97 L81.70,300.58 L82.32,299.22 L82.95,297.86 L83.53,296.47 L84.07,295.08 L84.62,293.68 L85.20,292.29 L85.80,290.92 L86.42,289.55 L87.07,288.19 L87.74,286.86 L88.45,285.53 L89.18,284.22 L89.94,282.92 L90.73,281.65 L91.54,280.39 L92.39,279.15 L93.27,277.93 L94.17,276.73 L95.10,275.56 L96.06,274.40 L97.05,273.27 L98.06,272.16 L99.10,271.08 L100.16,270.02 L101.24,268.98 L102.35,267.96 L103.47,266.97 L104.62,266.00 L105.78,265.05 L106.97,264.12 L108.16,263.22 L109.38,262.34 L110.61,261.48 L111.85,260.64 L113.11,259.82 L114.38,259.02 L115.67,258.25 L116.97,257.49 L118.27,256.75 L119.59,256.03 L120.92,255.33 L122.26,254.65 L123.61,253.99 L124.96,253.35 L126.33,252.73 L127.70,252.12 L129.08,251.53 L130.47,250.96 L131.87,250.40 L133.27,249.86 L134.68,249.34 L136.09,248.84 L137.51,248.35 L138.93,247.87 L140.36,247.41 L141.80,246.97 L143.23,246.54 L144.68,246.12 L146.12,245.71 L147.57,245.32 L149.03,244.95 L150.48,244.58 L151.94,244.23 L153.40,243.89 L154.87,243.56 L156.34,243.24 L157.81,242.93 L159.28,242.64 L160.75,242.35 L162.23,242.08 L163.71,241.81 L165.18,241.55 L166.67,241.30 L168.15,241.06 L169.63,240.83 L171.12,240.61 L172.60,240.39 L174.09,240.18 L175.58,239.98 L177.07,239.79 L178.56,239.61 L180.05,239.43 L181.54,239.25 L183.03,239.08 L184.52,238.92 L186.02,238.77 L187.51,238.62 L189.01,238.47 L190.50,238.34 L192.00,238.20 L193.49,238.07 L194.99,237.95 L196.48,237.83 L197.98,237.71 L199.48,237.60 L200.98,237.49 L202.47,237.39 L203.97,237.29 L205.47,237.19 L206.97,237.10 L208.47,237.01 L209.97,236.92 L211.47,236.84 L212.97,236.76 L214.47,236.68 L215.97,236.61 L217.47,236.54 L218.97,236.47 L220.47,236.40 L221.97,236.34 L223.47,236.28 L224.97,236.22 L226.47,236.16 L227.97,236.10 L229.47,236.05 L230.97,236.00 L232.47,235.95 L233.97,235.90 L235.47,235.86 L236.97,235.81 L238.47,235.77 L239.97,235.73 L241.47,235.69 L242.98,235.65 L244.48,235.61 L245.98,235.58 L247.48,235.54 L248.98,235.51 L250.48,235.48 L251.98,235.45 L253.48,235.42 L254.98,235.39 L256.49,235.36 L257.99,235.34 L259.49,235.31 L260.99,235.29 L262.49,235.26 L263.99,235.24 L265.49,235.22 L267.00,235.20 L268.50,235.18 L270.00,235.16 L271.50,235.14 L272.00,235.13" fill="none" stroke="#3da44d" stroke-width="3" stroke-linejoin="round"/>
<rect x="138.5" y="299.5" width="127.0" height="51.39999999999998" fill="#fff" stroke="#000" stroke-width="1"/>
<path d="M140.6,312.5 H154.1" stroke="#009af9" stroke-width="3" stroke-linecap="round"/>
<text transform="translate(155.83,316.80) scale(1.0910,1)" font-size="11.9" text-anchor="start">Reference</text>
<path d="M140.6,325.5 H154.1" stroke="#e26f46" stroke-width="3" stroke-linecap="round"/>
<text transform="translate(156.86,329.80) scale(1.1330,1)" font-size="11.9" text-anchor="start">Advection</text>
<path d="M140.6,338.3 H154.1" stroke="#3da44d" stroke-width="3" stroke-linecap="round"/>
<text transform="translate(156.86,342.60) scale(1.1290,1)" font-size="11.9" text-anchor="start">Advection centers</text>
<path d="M366.0,221.5 H572.5 V355.5 H366.0 Z" fill="none" stroke="#000" stroke-width="1"/>
<path d="M366.00,355.5 V350.70 M366.00,221.5 V226.30 M407.30,355.5 V350.70 M407.30,221.5 V226.30 M448.60,355.5 V350.70 M448.60,221.5 V226.30 M489.90,355.5 V350.70 M489.90,221.5 V226.30 M531.20,355.5 V350.70 M531.20,221.5 V226.30 M572.50,355.5 V350.70 M572.50,221.5 V226.30 M366.0,337.40 H370.80 M572.5,337.40 H567.70 M366.0,316.62 H370.80 M572.5,316.62 H567.70 M366.0,295.84 H370.80 M572.5,295.84 H567.70 M366.0,275.06 H370.80 M572.5,275.06 H567.70 M366.0,254.28 H370.80 M572.5,254.28 H567.70 M366.0,233.50 H370.80 M572.5,233.50 H567.70 " fill="none" stroke="#000" stroke-width="1"/>
<path d="M366.00,351.60 L367.50,351.60 L369.00,351.60 L370.50,351.60 L372.00,351.60 L373.49,351.56 L374.85,351.20 L375.88,350.25 L376.55,348.95 L377.11,347.56 L377.65,346.16 L378.16,344.75 L378.78,343.41 L379.65,342.22 L380.54,341.02 L381.28,339.73 L382.01,338.41 L382.79,337.13 L383.63,335.89 L384.57,334.73 L385.61,333.65 L386.72,332.64 L387.88,331.70 L389.09,330.80 L390.32,329.95 L391.58,329.13 L392.85,328.34 L394.15,327.57 L395.45,326.83 L396.77,326.12 L398.10,325.42 L399.44,324.73 L400.78,324.07 L402.13,323.41 L403.49,322.78 L404.86,322.15 L406.22,321.54 L407.60,320.93 L408.98,320.34 L410.36,319.75 L411.75,319.18 L413.14,318.61 L414.53,318.05 L415.93,317.50 L417.33,316.96 L418.73,316.42 L420.13,315.89 L421.54,315.37 L422.95,314.85 L424.36,314.34 L425.77,313.83 L427.19,313.33 L428.61,312.84 L430.02,312.35 L431.44,311.86 L432.87,311.38 L434.29,310.90 L435.71,310.43 L437.14,309.96 L438.57,309.50 L440.00,309.04 L441.43,308.58 L442.86,308.13 L444.29,307.68 L445.72,307.23 L447.16,306.79 L448.59,306.35 L450.03,305.91 L451.47,305.48 L452.91,305.05 L454.34,304.62 L455.78,304.20 L457.23,303.78 L458.67,303.36 L460.11,302.94 L461.55,302.53 L463.00,302.12 L464.44,301.71 L465.89,301.30 L467.33,300.90 L468.78,300.50 L470.23,300.10 L471.67,299.70 L473.12,299.31 L474.57,298.91 L476.02,298.52 L477.47,298.13 L478.92,297.75 L480.37,297.36 L481.82,296.98 L483.28,296.60 L484.73,296.22 L486.18,295.85 L487.64,295.47 L489.09,295.10 L490.54,294.73 L492.00,294.36 L493.45,293.99 L494.91,293.62 L496.37,293.26 L497.82,292.89 L499.28,292.53 L500.74,292.17 L502.19,291.81 L503.65,291.46 L505.11,291.10 L506.57,290.75 L508.03,290.40 L509.49,290.04 L510.95,289.69 L512.41,289.35 L513.87,289.00 L515.33,288.65 L516.79,288.31 L518.25,287.97 L519.71,287.62 L521.18,287.28 L522.64,286.94 L524.10,286.61 L525.56,286.27 L527.03,285.93 L528.49,285.60 L529.95,285.27 L531.42,284.93 L532.88,284.60 L534.35,284.27 L535.81,283.94 L537.28,283.62 L538.74,283.29 L540.21,282.96 L541.67,282.64 L543.14,282.32 L544.60,281.99 L546.07,281.67 L547.54,281.35 L549.00,281.03 L550.47,280.71 L551.94,280.40 L553.41,280.08 L554.87,279.76 L556.34,279.45 L557.81,279.13 L559.28,278.82 L560.75,278.51 L562.21,278.20 L563.68,277.89 L565.15,277.58 L566.62,277.27 L568.09,276.96 L569.56,276.66 L571.03,276.35 L572.50,276.05" fill="none" stroke="#009af9" stroke-width="3" stroke-linejoin="round"/>
<path d="M366.00,351.60 L367.50,351.60 L369.00,351.60 L370.51,351.60 L372.01,351.60 L373.50,351.56 L374.86,351.19 L375.88,350.25 L376.55,348.95 L377.12,347.56 L377.65,346.16 L378.17,344.75 L378.80,343.42 L379.72,342.27 L380.64,341.10 L381.43,339.83 L382.24,338.57 L383.16,337.39 L384.20,336.31 L385.34,335.35 L386.55,334.46 L387.79,333.61 L389.06,332.81 L390.35,332.04 L391.66,331.31 L392.99,330.61 L394.33,329.93 L395.69,329.29 L397.05,328.66 L398.43,328.06 L399.81,327.48 L401.21,326.92 L402.61,326.38 L404.01,325.85 L405.43,325.34 L406.84,324.84 L408.26,324.36 L409.69,323.88 L411.12,323.42 L412.55,322.97 L413.99,322.53 L415.43,322.11 L416.87,321.69 L418.31,321.28 L419.76,320.87 L421.21,320.48 L422.66,320.09 L424.12,319.71 L425.57,319.34 L427.03,318.98 L428.49,318.62 L429.95,318.27 L431.41,317.92 L432.87,317.58 L434.33,317.24 L435.80,316.91 L437.27,316.59 L438.73,316.27 L440.20,315.95 L441.67,315.64 L443.14,315.33 L444.61,315.03 L446.08,314.73 L447.56,314.44 L449.03,314.15 L450.50,313.86 L451.98,313.57 L453.45,313.29 L454.93,313.02 L456.41,312.74 L457.88,312.47 L459.36,312.21 L460.84,311.94 L462.32,311.68 L463.80,311.42 L465.28,311.17 L466.76,310.91 L468.24,310.66 L469.72,310.42 L471.20,310.17 L472.69,309.93 L474.17,309.69 L475.65,309.45 L477.13,309.21 L478.62,308.98 L480.10,308.75 L481.59,308.52 L483.07,308.29 L484.56,308.07 L486.04,307.84 L487.53,307.62 L489.01,307.40 L490.50,307.18 L491.98,306.97 L493.47,306.75 L494.96,306.54 L496.45,306.33 L497.93,306.12 L499.42,305.91 L500.91,305.71 L502.40,305.50 L503.88,305.30 L505.37,305.10 L506.86,304.90 L508.35,304.70 L509.84,304.50 L511.33,304.31 L512.82,304.11 L514.31,303.92 L515.80,303.73 L517.29,303.54 L518.78,303.35 L520.27,303.16 L521.76,302.98 L523.25,302.79 L524.74,302.61 L526.23,302.43 L527.72,302.25 L529.21,302.07 L530.70,301.89 L532.19,301.71 L533.68,301.53 L535.18,301.36 L536.67,301.18 L538.16,301.01 L539.65,300.83 L541.14,300.66 L542.64,300.49 L544.13,300.32 L545.62,300.15 L547.11,299.99 L548.61,299.82 L550.10,299.65 L551.59,299.49 L553.08,299.32 L554.58,299.16 L556.07,299.00 L557.56,298.84 L559.06,298.68 L560.55,298.52 L562.04,298.36 L563.54,298.20 L565.03,298.04 L566.52,297.89 L568.02,297.73 L569.51,297.58 L571.01,297.42 L572.50,297.27" fill="none" stroke="#e26f46" stroke-width="3" stroke-linejoin="round"/>
<rect x="487.0" y="312.5" width="78.5" height="38.30000000000001" fill="#fff" stroke="#000" stroke-width="1"/>
<path d="M489.1,325.5 H502.6" stroke="#009af9" stroke-width="3" stroke-linecap="round"/>
<text transform="translate(504.33,329.80) scale(1.0910,1)" font-size="11.9" text-anchor="start">Reference</text>
<path d="M489.1,338.3 H502.6" stroke="#e26f46" stroke-width="3" stroke-linecap="round"/>
<text transform="translate(505.36,342.60) scale(1.1330,1)" font-size="11.9" text-anchor="start">Advection</text>
<text transform="translate(168.90,17.75) scale(1.1270,1)" font-size="21.1" text-anchor="middle">25m resolution</text>
<text transform="translate(469.30,17.75) scale(1.1310,1)" font-size="21.1" text-anchor="middle">5m resolution</text>
<text transform="translate(168.85,201.40) scale(1.0950,1)" font-size="16.9" text-anchor="middle">Timestep</text>
<text transform="translate(469.35,201.40) scale(1.0950,1)" font-size="16.9" text-anchor="middle">Timestep</text>
<text transform="translate(168.85,391.90) scale(1.0950,1)" font-size="16.9" text-anchor="middle">Timestep</text>
<text transform="translate(469.35,391.90) scale(1.0950,1)" font-size="16.9" text-anchor="middle">Timestep</text>
<text transform="translate(65.45,180.70) scale(1.1230,1)" font-size="11.9" text-anchor="middle">0</text>
<text transform="translate(106.75,180.70) scale(1.1230,1)" font-size="11.9" text-anchor="middle">100</text>
<text transform="translate(148.05,180.70) scale(1.1230,1)" font-size="11.9" text-anchor="middle">200</text>
<text transform="translate(189.35,180.70) scale(1.1230,1)" font-size="11.9" text-anchor="middle">300</text>
<text transform="translate(230.65,180.70) scale(1.1230,1)" font-size="11.9" text-anchor="middle">400</text>
<text transform="translate(271.95,180.70) scale(1.1230,1)" font-size="11.9" text-anchor="middle">500</text>
<text transform="translate(365.95,180.70) scale(1.1230,1)" font-size="11.9" text-anchor="middle">0</text>
<text transform="translate(407.25,180.70) scale(1.1230,1)" font-size="11.9" text-anchor="middle">100</text>
<text transform="translate(448.55,180.70) scale(1.1230,1)" font-size="11.9" text-anchor="middle">200</text>
<text transform="translate(489.85,180.70) scale(1.1230,1)" font-size="11.9" text-anchor="middle">300</text>
<text transform="translate(531.15,180.70) scale(1.1230,1)" font-size="11.9" text-anchor="middle">400</text>
<text transform="translate(572.45,180.70) scale(1.1230,1)" font-size="11.9" text-anchor="middle">500</text>
<text transform="translate(65.45,371.60) scale(1.1230,1)" font-size="11.9" text-anchor="middle">0</text>
<text transform="translate(106.75,371.60) scale(1.1230,1)" font-size="11.9" text-anchor="middle">100</text>
<text transform="translate(148.05,371.60) scale(1.1230,1)" font-size="11.9" text-anchor="middle">200</text>
<text transform="translate(189.35,371.60) scale(1.1230,1)" font-size="11.9" text-anchor="middle">300</text>
<text transform="translate(230.65,371.60) scale(1.1230,1)" font-size="11.9" text-anchor="middle">400</text>
<text transform="translate(271.95,371.60) scale(1.1230,1)" font-size="11.9" text-anchor="middle">500</text>
<text transform="translate(365.95,371.60) scale(1.1230,1)" font-size="11.9" text-anchor="middle">0</text>
<text transform="translate(407.25,371.60) scale(1.1230,1)" font-size="11.9" text-anchor="middle">100</text>
<text transform="translate(448.55,371.60) scale(1.1230,1)" font-size="11.9" text-anchor="middle">200</text>
<text transform="translate(489.85,371.60) scale(1.1230,1)" font-size="11.9" text-anchor="middle">300</text>
<text transform="translate(531.15,371.60) scale(1.1230,1)" font-size="11.9" text-anchor="middle">400</text>
<text transform="translate(572.45,371.60) scale(1.1230,1)" font-size="11.9" text-anchor="middle">500</text>
<text transform="translate(18.15,97.80) rotate(-90) scale(1.0860,1)" font-size="16.9" text-anchor="middle">Vx_max [m/s]</text>
<text transform="translate(318.15,97.80) rotate(-90) scale(1.0860,1)" font-size="16.9" text-anchor="middle">Vx_max [m/s]</text>
<text transform="translate(15.90,288.00) rotate(-90) scale(1.0600,1)" font-size="16.9" text-anchor="middle">T_max [C]</text>
<text transform="translate(315.90,288.00) rotate(-90) scale(1.0600,1)" font-size="16.9" text-anchor="middle">T_max [C]</text>
<text transform="translate(30.04,60.50) scale(1.1420,1)" font-size="11.9" text-anchor="start">10</text>
<path d="M44.2,50.40 H50.1" stroke="#000" stroke-width="0.9"/>
<text transform="translate(57.20,54.10)" font-size="10.0" text-anchor="end">3</text>
<text transform="translate(30.04,116.80) scale(1.1420,1)" font-size="11.9" text-anchor="start">10</text>
<path d="M44.2,106.70 H50.1" stroke="#000" stroke-width="0.9"/>
<text transform="translate(57.20,110.40)" font-size="10.0" text-anchor="end">6</text>
<text transform="translate(330.04,62.10) scale(1.1420,1)" font-size="11.9" text-anchor="start">10</text>
<path d="M344.2,52.00 H350.1" stroke="#000" stroke-width="0.9"/>
<text transform="translate(357.20,55.70)" font-size="10.0" text-anchor="end">3</text>
<text transform="translate(330.04,117.50) scale(1.1420,1)" font-size="11.9" text-anchor="start">10</text>
<path d="M344.2,107.40 H350.1" stroke="#000" stroke-width="0.9"/>
<text transform="translate(357.20,111.10)" font-size="10.0" text-anchor="end">6</text>
<text transform="translate(57.37,235.10) scale(1.1300,1)" font-size="11.9" text-anchor="end">1400</text>
<text transform="translate(57.37,267.20) scale(1.1300,1)" font-size="11.9" text-anchor="end">1200</text>
<text transform="translate(57.37,299.30) scale(1.1300,1)" font-size="11.9" text-anchor="end">1000</text>
<text transform="translate(57.37,331.40) scale(1.1300,1)" font-size="11.9" text-anchor="end">800</text>
<text transform="translate(357.50,341.50) scale(1.1480,1)" font-size="11.9" text-anchor="end">1000</text>
<text transform="translate(357.50,320.72) scale(1.1480,1)" font-size="11.9" text-anchor="end">1500</text>
<text transform="translate(357.50,299.94) scale(1.1480,1)" font-size="11.9" text-anchor="end">2000</text>
<text transform="translate(357.50,279.16) scale(1.1480,1)" font-size="11.9" text-anchor="end">2500</text>
<text transform="translate(357.50,258.38) scale(1.1480,1)" font-size="11.9" text-anchor="end">3000</text>
<text transform="translate(357.50,237.60) scale(1.1480,1)" font-size="11.9" text-anchor="end">3500</text>
</svg></body></html>
